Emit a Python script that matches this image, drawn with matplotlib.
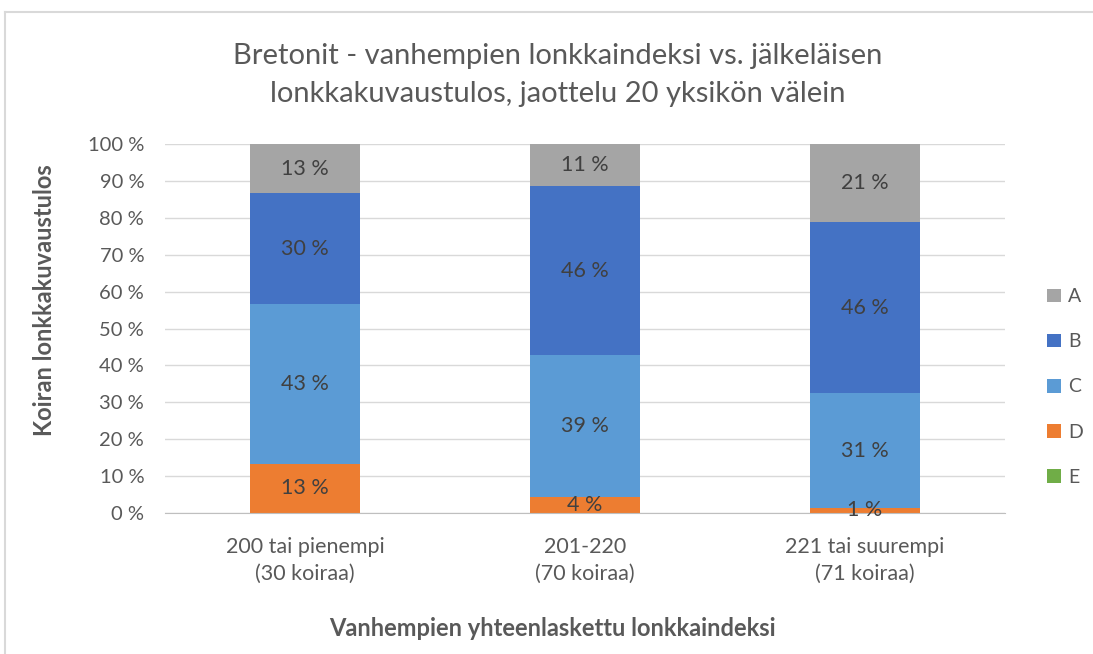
import numpy as np
import matplotlib.pyplot as plt
from matplotlib.lines import Line2D
from matplotlib.patches import Patch

categories = ["200 tai pienempi\n(30 koiraa)", "201-220\n(70 koiraa)", "221 tai suurempi\n(71 koiraa)"]
series = ["E", "D", "C", "B", "A"]
E = [0.0, 0.0, 0.0]
D = [13.33, 4.29, 1.41]
C = [43.33, 38.57, 30.99]
B = [30.00, 45.71, 46.48]
A = [13.33, 11.43, 21.13]
colors = {"A": "#A5A5A5", "B": "#4472C4", "C": "#5B9BD5", "D": "#ED7D31", "E": "#70AD47"}

plt.rcParams.update({"font.family": ["Lato", "DejaVu Sans"]})
txt = "#595959"; lab = "#404040"

fig = plt.figure(figsize=(10.93, 6.54), dpi=100)
# chart area border (top and left visible in the crop)
bx, by = 5/1093, 1 - 12/654
fig.add_artist(Line2D([bx, 1.0], [by, by], transform=fig.transFigure, color="#D9D9D9", lw=1.5))
fig.add_artist(Line2D([bx, bx], [0.0, by], transform=fig.transFigure, color="#D9D9D9", lw=1.5))

ax = fig.add_axes([165/1093, 1 - 513/654, 840/1093, 369/654])

x = np.arange(len(categories))
bottom = np.zeros(len(categories))
vals = {"E": E, "D": D, "C": C, "B": B, "A": A}
for s in series:
    v = np.array(vals[s])
    ax.bar(x, v, bottom=bottom, width=0.396, color=colors[s], zorder=2)
    for xi, b, vi in zip(x, bottom, v):
        if vi > 0:
            ax.text(xi, b + vi / 2, f"{vi:.0f} %", ha="center", va="center", fontsize=15.5, color=lab, zorder=3)
    bottom += v

ax.set_xlim(-0.5, 2.5)
ax.set_ylim(0, 100)
ax.set_yticks(np.arange(0, 101, 10))
ax.set_yticklabels([f"{t} %" for t in range(0, 101, 10)])
ax.set_xticks(x)
ax.set_xticklabels(categories, linespacing=1.45)
ax.tick_params(axis="y", length=0, labelsize=14.5, colors=txt, pad=15)
ax.tick_params(axis="x", length=0, labelsize=15.5, colors=txt, pad=17)
ax.grid(axis="y", color="#D9D9D9", linewidth=1, zorder=0)
for sp in ["top", "right", "left"]:
    ax.spines[sp].set_visible(False)
ax.spines["bottom"].set_color("#BFBFBF")

fig.text(558/1093, 1 - 75/654, "Bretonit - vanhempien lonkkaindeksi vs. jälkeläisen\nlonkkakuvaustulos, jaottelu 20 yksikön välein",
         ha="center", va="center", fontsize=21, color=txt, linespacing=1.6)
fig.text(45/1093, 1 - 300/654, "Koiran lonkkakuvaustulos", rotation=90, ha="center", va="center",
         fontsize=17, fontweight="bold", color=txt)
fig.text(552/1093, 1 - 628/654, "Vanhempien yhteenlaskettu lonkkaindeksi", ha="center", va="center",
         fontsize=17, fontweight="bold", color=txt)

handles = [Patch(facecolor=colors[s]) for s in ["A", "B", "C", "D", "E"]]
leg = fig.legend(handles, ["A", "B", "C", "D", "E"], loc="center left", bbox_to_anchor=(1047/1093, 1 - 387/654),
                 frameon=False, handlelength=0.7, handleheight=0.7, handletextpad=0.4,
                 labelspacing=1.45, fontsize=14, borderpad=0, borderaxespad=0)
for t in leg.get_texts():
    t.set_color(txt)

fig.savefig("out.png", dpi=100)
